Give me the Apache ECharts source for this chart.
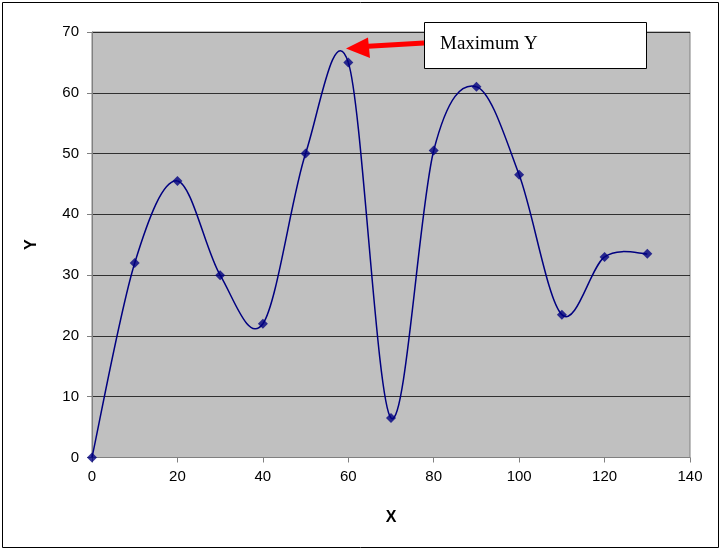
<!DOCTYPE html>
<html><head><meta charset="utf-8">
<script src="https://cdn.jsdelivr.net/npm/echarts@6/dist/echarts.min.js"></script>
<style>html,body{margin:0;padding:0;background:#fff}#c{width:722px;height:551px}</style>
</head><body><div id="c"></div>
<script>
const xValues = [0, 10, 20, 30, 40, 50, 60, 70, 80, 90, 100, 110, 120, 130];
const yValues = [0, 32, 45.5, 30, 22, 50, 65, 6.5, 50.5, 61, 46.5, 23.5, 33, 33.5];
const annotationText = 'Maximum Y';

const data = xValues.map((x, i) => [x, yValues[i]]);
const chart = echarts.init(document.getElementById('c'));
const font = 'Liberation Sans, Arial, sans-serif';

// Excel-style smoothed line: each segment is a Bezier curve whose control
// points come from the neighbouring data points (converted through the axes).
function renderSegment(params, api) {
  const i = params.dataIndex;
  const n = data.length;
  if (i >= n - 1) return null;
  const P = k => api.coord(data[Math.max(0, Math.min(n - 1, k))]);
  const p0 = P(i - 1), p1 = P(i), p2 = P(i + 1), p3 = P(i + 2);
  return {
    type: 'bezierCurve',
    shape: {
      x1: p1[0], y1: p1[1], x2: p2[0], y2: p2[1],
      cpx1: p1[0] + (p2[0] - p0[0]) / 6, cpy1: p1[1] + (p2[1] - p0[1]) / 6,
      cpx2: p2[0] - (p3[0] - p1[0]) / 6, cpy2: p2[1] - (p3[1] - p1[1]) / 6
    },
    style: {stroke: '#000080', lineWidth: 1.5, fill: null}
  };
}

chart.setOption({
  animation: false,
  backgroundColor: '#fff',
  grid: {left: 92, right: 32, top: 32, bottom: 93.5, show: true, backgroundColor: '#c0c0c0', borderColor: '#808080', borderWidth: 1},
  xAxis: {
    type: 'value', min: 0, max: 140, interval: 20,
    name: 'X', nameLocation: 'middle', nameGap: 52,
    nameTextStyle: {fontFamily: font, fontSize: 16, fontWeight: 'bold', color: '#000'},
    axisLine: {show: true, lineStyle: {color: '#808080', width: 1}},
    axisTick: {show: true, inside: false, length: 5, lineStyle: {color: '#808080'}},
    axisLabel: {fontFamily: font, fontSize: 15, color: '#000', margin: 12},
    splitLine: {show: false}
  },
  yAxis: {
    type: 'value', min: 0, max: 70, interval: 10,
    name: 'Y', nameLocation: 'middle', nameGap: 52,
    nameTextStyle: {fontFamily: font, fontSize: 16, fontWeight: 'bold', color: '#000'},
    axisLine: {show: true, lineStyle: {color: '#808080', width: 1}},
    axisTick: {show: true, inside: false, length: 5, lineStyle: {color: '#808080'}},
    axisLabel: {fontFamily: font, fontSize: 15, color: '#000', margin: 13},
    splitLine: {show: true, lineStyle: {color: '#000', width: 1, opacity: 0.75}}
  },
  series: [
    {type: 'custom', data: data, renderItem: renderSegment, clip: false, z: 2},
    {type: 'scatter', data: data, symbol: 'diamond', symbolSize: 10, itemStyle: {color: '#000080'}, z: 3}
  ],
  graphic: [
    {type: 'rect', shape: {x: 2.5, y: 2.5, width: 716, height: 545}, style: {fill: 'none', stroke: '#000', lineWidth: 1}, silent: true},
    {type: 'line', shape: {x1: 424, y1: 43, x2: 364, y2: 46.5}, style: {stroke: '#ff0000', lineWidth: 5}, z: 100},
    {type: 'polygon', shape: {points: [[346, 48.5], [368, 37.5], [370, 58]]}, style: {fill: '#ff0000'}, z: 100},
    {type: 'rect', shape: {x: 424.5, y: 22.5, width: 222, height: 46}, style: {fill: '#fff', stroke: '#000', lineWidth: 1}, z: 100},
    {type: 'text', x: 440, y: 44, style: {text: annotationText, font: '19px "Liberation Serif", "Times New Roman", serif', fill: '#000', verticalAlign: 'middle'}, z: 101}
  ]
});
</script></body></html>
